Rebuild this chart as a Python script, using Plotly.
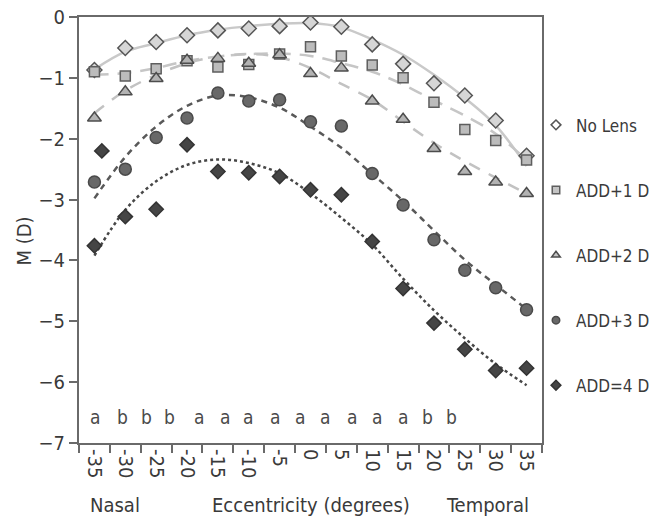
import plotly.graph_objects as go

# Eccentricity (degrees), nasal negative / temporal positive
ecc = [-35, -30, -25, -20, -15, -10, -5, 0, 5, 10, 15, 20, 25, 30, 35]

# Mean spherical equivalent M (D) per condition
no_lens = [-0.87, -0.51, -0.41, -0.30, -0.22, -0.19, -0.15, -0.09, -0.16, -0.45, -0.77, -1.09, -1.29, -1.70, -2.28]
add1 = [-0.90, -0.97, -0.85, -0.72, -0.82, -0.78, -0.61, -0.49, -0.64, -0.79, -1.00, -1.40, -1.85, -2.03, -2.35]
add2 = [-1.66, -1.23, -1.01, -0.71, -0.68, -0.76, -0.62, -0.93, -0.84, -1.38, -1.68, -2.16, -2.54, -2.71, -2.90]
add3 = [-2.71, -2.50, -1.98, -1.66, -1.25, -1.38, -1.36, -1.72, -1.79, -2.57, -3.09, -3.66, -4.16, -4.45, -4.81]
add4 = [-3.76, -3.28, -3.16, -2.10, -2.54, -2.56, -2.62, -2.84, -2.92, -3.69, -4.46, -5.03, -5.46, -5.81, -5.77]
add4_extra_x = [-33.8]
add4_extra_y = [-2.20]

# Fitted trend curves, sampled at each eccentricity
fit_no_lens = [-0.86, -0.57, -0.43, -0.30, -0.21, -0.15, -0.11, -0.10, -0.17, -0.37, -0.62, -0.95, -1.33, -1.78, -2.45]
fit_add1 = [-0.95, -0.92, -0.84, -0.72, -0.65, -0.61, -0.60, -0.64, -0.76, -0.90, -1.11, -1.37, -1.62, -1.92, -2.35]
fit_add2 = [-1.58, -1.21, -0.95, -0.76, -0.65, -0.61, -0.66, -0.84, -1.10, -1.36, -1.72, -2.07, -2.37, -2.64, -2.90]
fit_add3 = [-2.98, -2.30, -1.80, -1.46, -1.29, -1.32, -1.49, -1.80, -2.15, -2.58, -3.02, -3.51, -3.99, -4.40, -4.80]
fit_add4 = [-3.92, -3.17, -2.70, -2.43, -2.34, -2.40, -2.57, -2.90, -3.30, -3.74, -4.30, -4.82, -5.28, -5.70, -6.05]

# Significance letters along the bottom of the plot
sig_letters = ["a", "b", "b", "b", "a", "a", "a", "a", "a", "a", "a", "a", "a", "b", "b"]
sig_x = [-34.9, -30.4, -26.5, -22.9, -18.1, -13.85, -10.1, -5.75, -1.7, 2.35, 6.7, 10.8, 15.0, 19.0, 22.9]

y_ticks = [0, -1, -2, -3, -4, -5, -6, -7]

FONT = "DejaVu Sans Condensed, Liberation Sans Narrow, Arial Narrow, sans-serif"
TXT = "#3a3a3a"
AX = "#6a6a6a"

series = [
    dict(name="No Lens", y=no_lens, fit=fit_no_lens, symbol="diamond", size=11.5,
         fill="#d6d6d6", edge="#555555", lfill="#ffffff",
         lcolor="#c9c9c9", dash="solid"),
    dict(name="ADD+1 D", y=add1, fit=fit_add1, symbol="square", size=10,
         fill="#bcbcbc", edge="#5e5e5e", lfill="#c4c4c4",
         lcolor="#c6c6c6", dash="14px,9px"),
    dict(name="ADD+2 D", y=add2, fit=fit_add2, symbol="triangle-up", size=12,
         fill="#b3b3b3", edge="#4d4d4d", lfill="#c4c4c4",
         lcolor="#c2c2c2", dash="12px,10px"),
    dict(name="ADD+3 D", y=add3, fit=fit_add3, symbol="circle", size=12,
         fill="#686868", edge="#4a4a4a", lfill="#686868",
         lcolor="#595959", dash="6px,5px"),
    dict(name="ADD=4 D", y=add4, fit=fit_add4, symbol="diamond", size=11,
         fill="#454545", edge="#333333", lfill="#454545",
         lcolor="#474747", dash="dot"),
]

fig = go.Figure()

# trend curves behind the markers
for s in series:
    fig.add_trace(go.Scatter(
        x=ecc, y=s["fit"], mode="lines", showlegend=False, hoverinfo="skip",
        line=dict(color=s["lcolor"], width=2.5, dash=s["dash"], shape="spline", smoothing=1.0),
    ))

# data markers
for s in series:
    fig.add_trace(go.Scatter(
        x=ecc, y=s["y"], mode="markers", showlegend=False, name=s["name"],
        marker=dict(symbol=s["symbol"], size=s["size"], color=s["fill"],
                    line=dict(color=s["edge"], width=1.5)),
    ))
    if s["name"] == "ADD=4 D":
        fig.add_trace(go.Scatter(
            x=add4_extra_x, y=add4_extra_y, mode="markers", showlegend=False,
            marker=dict(symbol=s["symbol"], size=s["size"], color=s["fill"],
                        line=dict(color=s["edge"], width=1.5)),
        ))

# legend entries with smaller symbols
for i, s in enumerate(series):
    fig.add_trace(go.Scatter(
        x=[None], y=[None], mode="markers", name=s["name"], legendgroup=f"g{i}",
        marker=dict(symbol=s["symbol"], size=7.5, color=s["lfill"],
                    line=dict(color=s["edge"], width=1.5)),
    ))

annotations = []
for letter, xv in zip(sig_letters, sig_x):
    annotations.append(dict(x=xv, y=-6.57, xref="x", yref="y", text=letter, showarrow=False,
                            xanchor="center", yanchor="middle",
                            font=dict(size=19, color="#4a4a4a", family=FONT)))

axis_title_font = dict(size=20, color=TXT, family=FONT)
annotations += [
    dict(x=0.078, y=-0.146, xref="paper", yref="paper", text="Nasal", showarrow=False,
         xanchor="center", yanchor="middle", font=axis_title_font),
    dict(x=0.5, y=-0.146, xref="paper", yref="paper", text="Eccentricity (degrees)", showarrow=False,
         xanchor="center", yanchor="middle", font=axis_title_font),
    dict(x=0.883, y=-0.146, xref="paper", yref="paper", text="Temporal", showarrow=False,
         xanchor="center", yanchor="middle", font=axis_title_font),
    dict(x=-0.119, y=0.475, xref="paper", yref="paper", text="M (D)", showarrow=False,
         xanchor="center", yanchor="middle", textangle=-90, font=axis_title_font),
]

fig.update_layout(
    width=662, height=517,
    margin=dict(l=79, r=120, t=17, b=74, autoexpand=False),
    paper_bgcolor="white", plot_bgcolor="white",
    font=dict(family=FONT, size=18, color=TXT),
    showlegend=True,
    legend=dict(x=0.987, xanchor="left", y=0.788, yanchor="top",
                font=dict(size=17, color=TXT, family=FONT),
                tracegroupgap=40, itemwidth=30, bgcolor="rgba(0,0,0,0)"),
    annotations=annotations,
)

fig.update_xaxes(
    range=[-37.5, 37.5], tickmode="array", tickvals=ecc,
    ticktext=[str(v) for v in ecc], tickangle=90, ticks="",
    tickfont=dict(size=20, color=TXT, family=FONT),
    showgrid=False, zeroline=False,
    showline=True, linecolor=AX, linewidth=2, mirror=True,
    minor=dict(ticks="outside", tick0=-37.5, dtick=5, ticklen=8, tickwidth=2, tickcolor=AX, showgrid=False),
)
fig.update_yaxes(
    range=[-7, 0], tickmode="array", tickvals=y_ticks,
    ticktext=["0" if v == 0 else "\u2212" + str(-v) for v in y_ticks],
    ticks="outside", ticklen=8, tickwidth=2, tickcolor=AX,
    tickfont=dict(size=20, color=TXT, family=FONT),
    showgrid=False, zeroline=False,
    showline=True, linecolor=AX, linewidth=2, mirror=True,
)

fig.write_html("out.html")
